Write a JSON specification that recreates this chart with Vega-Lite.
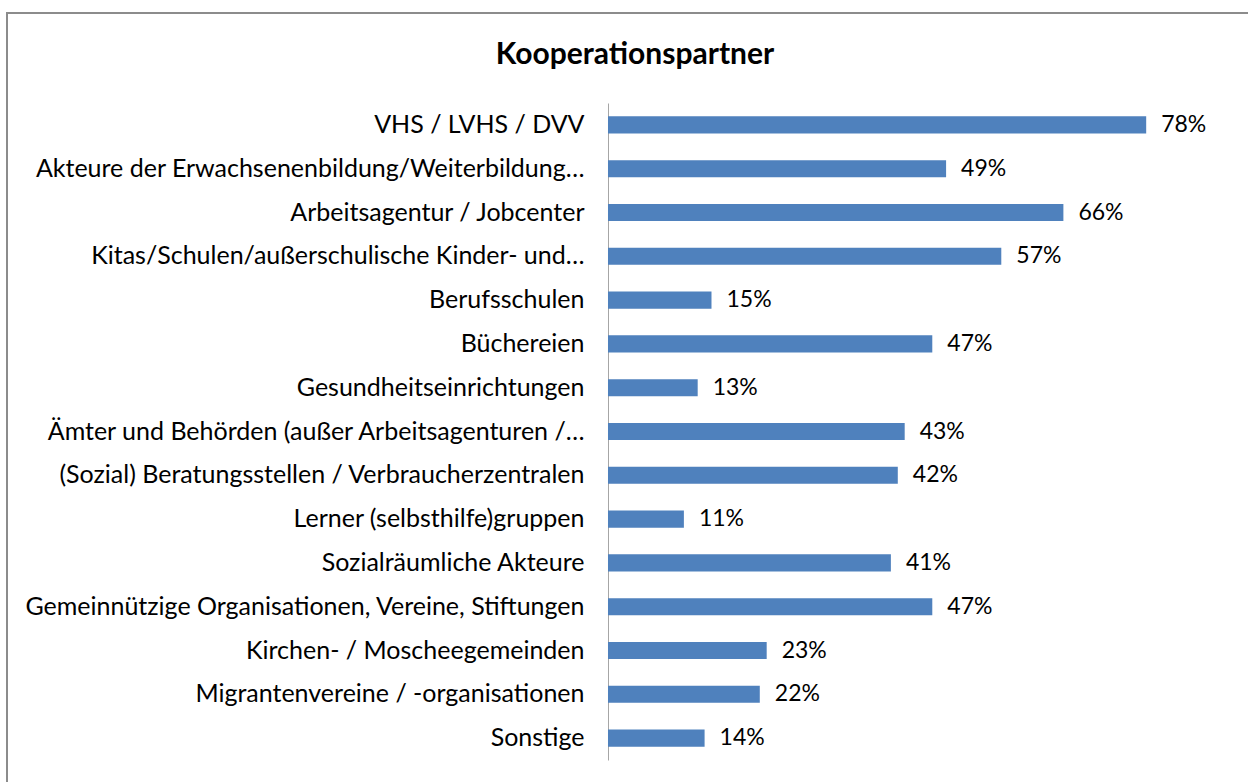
{
  "$schema": "https://vega.github.io/schema/vega-lite/v6.json",
  "autosize": {"type": "none"},
  "padding": {"left": 7, "top": 13, "right": 0, "bottom": 0},
  "width": 1242,
  "height": 770,
  "background": "white",
  "config": {
    "view": {"stroke": "#8c8c8c", "strokeWidth": 2},
    "font": "Lato"
  },
  "title": {
    "text": "Kooperationspartner",
    "font": "Lato",
    "fontSize": 30,
    "fontWeight": "bold",
    "color": "#000000",
    "anchor": "middle",
    "frame": "group",
    "baseline": "alphabetic",
    "offset": -81,
    "dx": 7
  },
  "data": {
    "values": [
      {"partner": "VHS / LVHS / DVV", "value": 0.78},
      {"partner": "Akteure der Erwachsenenbildung/Weiterbildung…", "value": 0.49},
      {"partner": "Arbeitsagentur / Jobcenter", "value": 0.66},
      {"partner": "Kitas/Schulen/außerschulische Kinder- und…", "value": 0.57},
      {"partner": "Berufsschulen", "value": 0.15},
      {"partner": "Büchereien", "value": 0.47},
      {"partner": "Gesundheitseinrichtungen", "value": 0.13},
      {"partner": "Ämter und Behörden (außer Arbeitsagenturen /…", "value": 0.43},
      {"partner": "(Sozial) Beratungsstellen / Verbraucherzentralen", "value": 0.42},
      {"partner": "Lerner (selbsthilfe)gruppen", "value": 0.11},
      {"partner": "Sozialräumliche Akteure", "value": 0.41},
      {"partner": "Gemeinnützige Organisationen, Vereine, Stiftungen", "value": 0.47},
      {"partner": "Kirchen- / Moscheegemeinden", "value": 0.23},
      {"partner": "Migrantenvereine / -organisationen", "value": 0.22},
      {"partner": "Sonstige", "value": 0.14}
    ]
  },
  "encoding": {
    "y": {
      "field": "partner",
      "type": "nominal",
      "sort": null,
      "scale": {"range": [90, 747], "paddingInner": 0.61, "paddingOuter": 0.305},
      "axis": {
        "title": null,
        "offset": -601,
        "ticks": false,
        "domain": true,
        "domainColor": "#a6a6a6",
        "domainWidth": 1,
        "labelPadding": 24,
        "labelLimit": 0,
        "labelFont": "Lato",
        "labelFontSize": 25,
        "labelColor": "#000000",
        "grid": false
      }
    },
    "x": {
      "field": "value",
      "type": "quantitative",
      "scale": {"domain": [-0.871, 0.929], "nice": false, "zero": false},
      "axis": null
    }
  },
  "layer": [
    {"mark": {"type": "bar", "color": "#4f81bd", "x2": 0}},
    {
      "mark": {"type": "text", "align": "left", "baseline": "middle", "dx": 15, "font": "Lato", "fontSize": 23, "color": "#000000"},
      "encoding": {"text": {"field": "value", "type": "quantitative", "format": ".0%"}}
    }
  ]
}
